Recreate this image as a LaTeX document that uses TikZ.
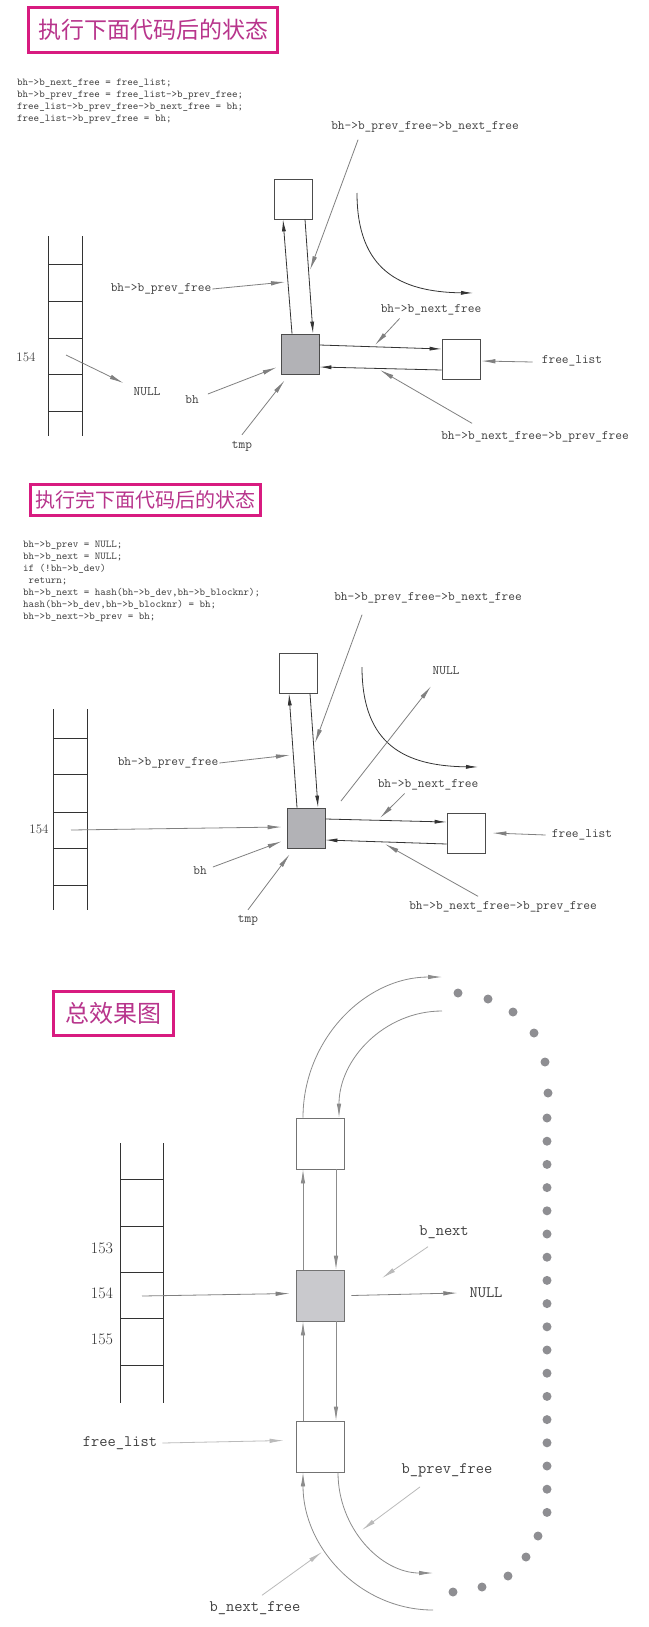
\documentclass[tikz,border=0pt]{standalone}
\usepackage{fontspec}
\newfontfamily\cjk{Noto Sans CJK SC}
\usetikzlibrary{arrows.meta,calc}

\definecolor{boxgray}{HTML}{B2B2B6}
\definecolor{lightboxgray}{HTML}{C9C9CD}
\definecolor{dotgray}{HTML}{8E8E92}
\definecolor{titlepink}{HTML}{D81B80}
\definecolor{titletext}{HTML}{B8358C}

\tikzset{
  titlebox/.style={draw=titlepink, line width=3pt, text=titletext, inner sep=0pt},
  code/.style={font=\ttfamily\fontsize{10.5}{12}\selectfont, text=black!75, align=left, inner sep=0pt},
  cell/.style={draw=black!70, line width=0.8pt, minimum width=38pt, minimum height=40pt, inner sep=0pt},
  bigcell/.style={cell, draw=black!55, minimum width=48pt, minimum height=51pt},
  lab/.style={font=\ttfamily\fontsize{13}{13}\selectfont, text=black!75, inner sep=1pt},
  biglab/.style={font=\ttfamily\fontsize{16}{16}\selectfont, text=black!75, inner sep=1pt},
  numlab/.style={font=\fontsize{13}{13}\selectfont, text=black!75, inner sep=1pt},
  bignum/.style={font=\fontsize{16}{16}\selectfont, text=black!80, inner sep=1pt},
  ladder/.style={draw=black!80, line width=1pt},
  link/.style={draw=black!80, line width=0.8pt, -{Latex[length=12pt,width=4pt]}},
  glink/.style={draw=black!45, line width=0.8pt, -{Latex[length=14pt,width=4.5pt]}},
  ptr/.style={draw=black!50, line width=0.8pt, -{Latex[length=14pt,width=4.5pt]}},
  lptr/.style={ptr, draw=black!27},
}

\begin{document}
\begin{tikzpicture}[x=1pt,y=-1pt]
    \useasboundingbox (0,0) rectangle (648,1627);
    \fill[white] (0,0) rectangle (648,1627);

    % ---------- panel 1 ----------
    \node[titlebox, minimum width=249pt, minimum height=45pt, font=\cjk\fontsize{23}{23}\selectfont] (title1) at (153,30) {执行下面代码后的状态};
    \node[code, anchor=north west] (code1) at (17,79) {bh->b\_next\_free = free\_list;\\
        bh->b\_prev\_free = free\_list->b\_prev\_free;\\
        free\_list->b\_prev\_free->b\_next\_free = bh;\\
        free\_list->b\_prev\_free = bh;};
    % hash table
    \draw[ladder] (48,236) -- (48,436) (82,236) -- (82,436);
    \foreach \y in {264,301,338,374,411} \draw[ladder] (48,\y) -- (82,\y);
    \node[numlab] (n154a) at (26,357) {154};
    \node[lab] (null1) at (147,392) {NULL};
    \coordinate (s154a) at (66,355);
    \draw[ptr] (s154a) -- ($(null1.west)+(-9,-9)$);
    % buffers
    \node[cell] (top1) at (293,199) {};
    \node[cell, fill=boxgray] (bh1) at (300,354) {};
    \node[cell] (fl1) at (461,359) {};
    \draw[link] ([xshift=-8pt]bh1.north) -- ([xshift=-10pt]top1.south);
    \draw[link] ([xshift=12pt]top1.south) -- ([xshift=13pt]bh1.north);
    \draw[link] ([yshift=9pt]bh1.east) -- ([yshift=10pt]fl1.west);
    \draw[link] ([yshift=-11pt]fl1.west) -- ([yshift=-13pt]bh1.east);
    \coordinate (cv1a) at (357,193);
    \coordinate (cv1b) at (473,293);
    \draw[link] (cv1a) .. controls +(0,77) and +(-73,-1) .. (cv1b);
    % labels
    \node[lab] (pfnf1) at (425,127) {bh->b\_prev\_free->b\_next\_free};
    \node[lab] (pf1) at (161,289) {bh->b\_prev\_free};
    \node[lab] (nf1) at (431,310) {bh->b\_next\_free};
    \node[lab] (fllab1) at (572,361) {free\_list};
    \node[lab] (nfpf1) at (535,437) {bh->b\_next\_free->b\_prev\_free};
    \node[lab] (bhlab1) at (192,400) {bh};
    \node[lab] (tmp1) at (242,446) {tmp};
    \coordinate (e1a) at (310,270);
    \coordinate (e1b) at (285,282);
    \coordinate (e1c) at (375,345);
    \coordinate (e1d) at (380,370);
    \draw[ptr] ($(pfnf1.south west)+(28,6)$) -- (e1a);
    \draw[ptr] (pf1.east) -- (e1b);
    \draw[ptr] ($(nf1.south west)+(20,2)$) -- (e1c);
    \draw[ptr] ($(fllab1.west)+(-8,1)$) -- ($(fl1.east)+(1,2)$);
    \draw[ptr] ($(nfpf1.north west)+(32,-7)$) -- (e1d);
    \draw[ptr] ($(bhlab1.east)+(8,-6)$) -- ($(bh1.south west)+(-4,-7)$);
    \draw[ptr] ($(tmp1.north)+(0,-5)$) -- ($(bh1.south west)+(4,6)$);

    % ---------- panel 2 ----------
    \node[titlebox, minimum width=230pt, minimum height=31pt, font=\cjk\fontsize{20}{20}\selectfont] (title2) at (145.5,500) {执行完下面代码后的状态};
    \node[code, anchor=north west] (code2) at (23,541) {bh->b\_prev = NULL;\\
        bh->b\_next = NULL;\\
        if (!bh->b\_dev)\\
        \ return;\\
        bh->b\_next = hash(bh->b\_dev,bh->b\_blocknr);\\
        hash(bh->b\_dev,bh->b\_blocknr) = bh;\\
        bh->b\_next->b\_prev = bh;};
    % hash table
    \draw[ladder] (53,709) -- (53,910) (87,709) -- (87,910);
    \foreach \y in {738,774,812,848,885} \draw[ladder] (53,\y) -- (87,\y);
    \node[numlab] (n154b) at (39,829) {154};
    % buffers
    \node[cell] (top2) at (298,673) {};
    \node[cell, fill=boxgray] (bh2) at (306,828) {};
    \node[cell] (fl2) at (466,833) {};
    \draw[link] ([xshift=-9pt]bh2.north) -- ([xshift=-9pt]top2.south);
    \draw[link] ([xshift=12pt]top2.south) -- ([xshift=12pt]bh2.north);
    \draw[link] ([yshift=9pt]bh2.east) -- ([yshift=11pt]fl2.west);
    \draw[link] ([yshift=-11pt]fl2.west) -- ([yshift=-12pt]bh2.east);
    \coordinate (cv2a) at (362,667);
    \coordinate (cv2b) at (478,767);
    \draw[link] (cv2a) .. controls +(0,78) and +(-73,-1) .. (cv2b);
    % labels
    \node[lab] (pfnf2) at (428,598) {bh->b\_prev\_free->b\_next\_free};
    \node[lab] (null2) at (446,671) {NULL};
    \node[lab] (pf2) at (168,763) {bh->b\_prev\_free};
    \node[lab] (nf2) at (428,785) {bh->b\_next\_free};
    \node[lab] (fllab2) at (582,835) {free\_list};
    \node[lab] (nfpf2) at (503,907) {bh->b\_next\_free->b\_prev\_free};
    \node[lab] (bhlab2) at (200,871) {bh};
    \node[lab] (tmp2) at (248,920) {tmp};
    \coordinate (s154b) at (71,830);
    \coordinate (s2null) at (341,801);
    \coordinate (e2a) at (315,743);
    \coordinate (e2b) at (290,755);
    \coordinate (e2c) at (380,818);
    \coordinate (e2d) at (385,844);
    \draw[ptr] (s154b) -- ($(bh2.west)+(-5,-1)$);
    \draw[ptr] ($(pfnf2.south west)+(29,10)$) -- (e2a);
    \draw[ptr] (s2null) -- ($(null2.south)+(-15,10)$);
    \draw[ptr] (pf2.east) -- (e2b);
    \draw[ptr] ($(nf2.south west)+(28,2)$) -- (e2c);
    \draw[ptr] ($(fllab2.west)+(-5,0)$) -- ($(fl2.east)+(7,0)$);
    \draw[ptr] ($(nfpf2.north west)+(70,-4)$) -- (e2d);
    \draw[ptr] ($(bhlab2.east)+(5,-4)$) -- ($(bh2.south west)+(-5,-7)$);
    \draw[ptr] ($(tmp2.north)+(0,-4)$) -- ($(bh2.south west)+(3,6)$);

    % ---------- panel 3 ----------
    \node[titlebox, minimum width=120pt, minimum height=44pt, font=\cjk\fontsize{24}{24}\selectfont] (title3) at (113.5,1013.5) {总效果图};
    % hash table
    \draw[ladder] (120,1143) -- (120,1403) (163,1143) -- (163,1403);
    \foreach \y in {1179,1226,1272,1318,1365} \draw[ladder] (120,\y) -- (163,\y);
    \node[bignum] (n153) at (102,1248) {153};
    \node[bignum] (n154c) at (102,1293) {154};
    \node[bignum] (n155) at (102,1339) {155};
    % buffers
    \node[bigcell] (top3) at (320,1143.5) {};
    \node[bigcell, fill=lightboxgray] (bh3) at (320,1295.5) {};
    \node[bigcell] (fl3) at (320,1446.5) {};
    \draw[glink] ([xshift=-17pt]bh3.north) -- ([xshift=-17pt]top3.south);
    \draw[glink] ([xshift=16pt]top3.south) -- ([xshift=16pt]bh3.north);
    \draw[glink] ([xshift=-17pt]fl3.north) -- ([xshift=-17pt]bh3.south);
    \draw[glink] ([xshift=16pt]bh3.south) -- ([xshift=16pt]fl3.north);
    % arcs round the free list
    \coordinate (arcA) at (442,977);
    \coordinate (arcB) at (442,1011);
    \coordinate (arcC) at (433,1610);
    \coordinate (arcD) at (433,1573);
    \draw[glink] ([xshift=-17pt]top3.north) .. controls +(0,-78) and +(-77,0) .. (arcA);
    \draw[glink] (arcB) .. controls +(-57,0) and +(0,-59) .. ([xshift=19pt]top3.north);
    \draw[glink] (arcC) .. controls +(-72,0) and +(0,76) .. ([xshift=-17pt]fl3.south);
    \draw[glink] ([xshift=18pt]fl3.south) .. controls +(0,56) and +(-52,0) .. (arcD);
    % dots
    \foreach \x/\y in {458/993, 488/999, 513/1012, 534/1033, 545/1062, 548/1093,
        538/1536, 526/1557, 508/1576, 482/1587, 453/1592}
        \fill[dotgray] (\x,\y) circle (4.5pt);
    \foreach \i in {0,...,17}
        \fill[dotgray] (547,{1118+23.2*\i}) circle (4.5pt);
    % labels
    \node[biglab] (bnext3) at (444,1232) {b\_next};
    \node[biglab] (null3) at (486,1293) {NULL};
    \node[biglab] (fllab3) at (120,1443) {free\_list};
    \node[biglab] (bpf3) at (447,1470) {b\_prev\_free};
    \node[biglab] (bnf3) at (255,1608) {b\_next\_free};
    \coordinate (s154c) at (142,1296);
    \coordinate (e3a) at (382,1278);
    \coordinate (e3b) at (362,1530);
    \coordinate (e3c) at (322,1552);
    \draw[ptr] (s154c) -- ($(bh3.west)+(-6,-2)$);
    \draw[ptr] ($(bh3.east)+(7,0)$) -- ($(null3.west)+(-11,0)$);
    \draw[lptr] ($(bnext3.south)+(-16,7)$) -- (e3a);
    \draw[lptr] ($(fllab3.east)+(4,0)$) -- ($(fl3.west)+(-12,-6)$);
    \draw[lptr] ($(bpf3.south)+(-27,9)$) -- (e3b);
    \draw[lptr] ($(bnf3.north)+(7,-5)$) -- (e3c);
\end{tikzpicture}
\end{document}
